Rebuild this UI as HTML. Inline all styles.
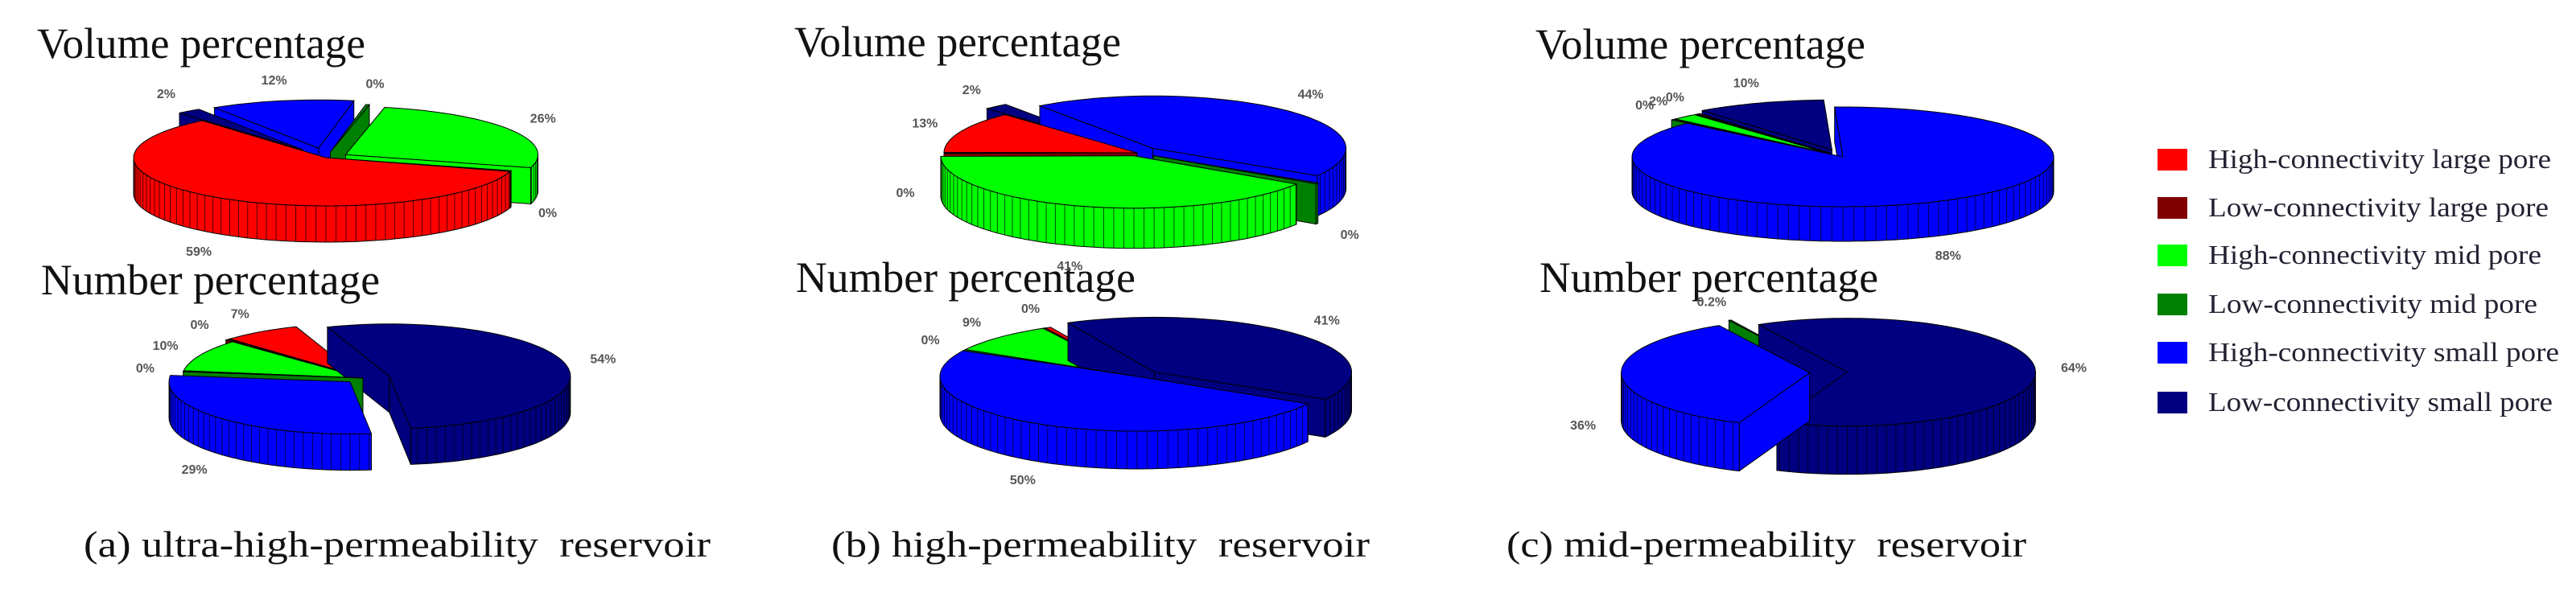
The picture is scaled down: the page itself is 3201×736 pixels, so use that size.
<!DOCTYPE html>
<html><head><meta charset="utf-8"><style>
html,body{margin:0;padding:0;background:#fff;}
svg{display:block;}
</style></head><body>
<svg id="fig" width="3201" height="736" viewBox="0 0 3201 736" xmlns="http://www.w3.org/2000/svg">
<rect x="0" y="0" width="3201" height="736" fill="#fff"/>
<g font-family="'Liberation Serif', serif" fill="#111">
<text x="46" y="72" font-size="54" textLength="408" lengthAdjust="spacingAndGlyphs">Volume percentage</text>
<text x="987" y="70" font-size="54" textLength="406" lengthAdjust="spacingAndGlyphs">Volume percentage</text>
<text x="1908" y="73" font-size="54" textLength="410" lengthAdjust="spacingAndGlyphs">Volume percentage</text>
<text x="51" y="366" font-size="54" textLength="421" lengthAdjust="spacingAndGlyphs">Number percentage</text>
<text x="989" y="363" font-size="54" textLength="422" lengthAdjust="spacingAndGlyphs">Number percentage</text>
<text x="1913" y="363" font-size="54" textLength="421" lengthAdjust="spacingAndGlyphs">Number percentage</text>
<text x="104" y="692" font-size="46" textLength="779" lengthAdjust="spacingAndGlyphs" xml:space="preserve">(a) ultra-high-permeability  reservoir</text>
<text x="1033" y="692" font-size="46" textLength="669" lengthAdjust="spacingAndGlyphs" xml:space="preserve">(b) high-permeability  reservoir</text>
<text x="1872" y="692" font-size="46" textLength="646" lengthAdjust="spacingAndGlyphs" xml:space="preserve">(c) mid-permeability  reservoir</text>
</g>
<g id="pies"></g>
<g id="legend"></g>
</svg>
<script>
// ---- data ----
const categories = ["High-connectivity large pore","Low-connectivity large pore","High-connectivity mid pore","Low-connectivity mid pore","High-connectivity small pore","Low-connectivity small pore"];
const colors = ["#ff0000","#800000","#00ff00","#008000","#0000ff","#000080"];
const volumeA = [59, 0.3, 26, 0.3, 12, 2];
const numberA = [7, 0.3, 10, 0.3, 29, 54];
const volumeB = [13, 0.3, 41, 0.3, 44, 2];
const numberB = [0.5, 0.2, 9, 0.4, 50, 41];
const volumeC = [0.2, 0.2, 2, 0.3, 88, 10];
const numberC = [0, 0, 0, 0.2, 36, 64];
const labelsVolumeA = ["59%","0%","26%","0%","12%","2%"];
const labelsNumberA = ["7%","0%","10%","0%","29%","54%"];
const labelsVolumeB = ["13%","0%","41%","0%","44%","2%"];
const labelsNumberB = ["0%","","9%","0%","50%","41%"];
const labelsVolumeC = ["0%","","2%","0%","88%","10%"];
const labelsNumberC = ["","","","0.2%","36%","64%"];

// ---- layout (geometry only) ----
const pies = [
 {name:"volume-pie-a", vals:volumeA, labels:labelsVolumeA, cx:405, cy:196, rx:239, ry:60, d:45, start:130, ex:[0,0,0.12,0.12,0.2,0.2]},
 {name:"number-pie-a", vals:numberA, labels:labelsNumberA, cx:451, cy:470, rx:225, ry:65, d:45, start:110, ex:[0.05,0.05,0,0,0.1,0.15]},
 {name:"volume-pie-b", vals:volumeB, labels:labelsVolumeB, cx:1413, cy:190, rx:240, ry:65, d:50, start:133, ex:[0,0,0.06,0.1,0.12,0.15]},
 {name:"number-pie-b", vals:numberB, labels:labelsNumberB, cx:1413, cy:468, rx:245, ry:68, d:47, start:116, ex:[0,0,0,0,0,0.12]},
 {name:"volume-pie-c", vals:volumeC, labels:labelsVolumeC, cx:2290, cy:195, rx:262, ry:62, d:43, start:128, ex:[0.1,0.1,0.1,0.1,0,0.15]},
 {name:"number-pie-c", vals:numberC, labels:labelsNumberC, cx:2272, cy:463, rx:234, ry:67, d:60, start:118, ex:[0,0,0,0.1,0.1,0.1]}
];
const NS = "http://www.w3.org/2000/svg";
const rad = a => a*Math.PI/180;
function mk(tag, attrs, parent){const e=document.createElementNS(NS,tag);for(const k in attrs)e.setAttribute(k,attrs[k]);parent.appendChild(e);return e;}
function pt(c,x0,y0,t,dy){return [x0+c.rx*Math.cos(rad(t)), y0-c.ry*Math.sin(rad(t))+dy];}
const root = document.getElementById("pies");
pies.forEach(c=>{
  const g = mk("g",{},root);
  
  
  const total = c.vals.reduce((a,b)=>a+b,0);
  let a = c.start;
  const slices = c.vals.map((v,i)=>{
    const a0=a, a1=a+v/total*360; a=a1;
    const m=(a0+a1)/2, f=c.ex[i];
    return {i,v,a0,a1,m,ox:f*c.rx*Math.cos(rad(m)), oy:-f*c.ry*Math.sin(rad(m))};
  });
  // labels
  slices.forEach(s=>{
    if(!c.labels[s.i]) return;
    const sm=Math.sin(rad(s.m)), cm=Math.cos(rad(s.m));
    const x=c.cx+s.ox+(c.rx+48)*cm, y=c.cy+s.oy-(c.ry+26)*sm+(sm<0?c.d:0)+5;
    const t=mk("text",{x:x.toFixed(1),y:y.toFixed(1),"font-family":"'Liberation Sans', sans-serif","font-size":"16","font-weight":"bold",fill:"#555","text-anchor":"middle"},g);
    t.textContent=c.labels[s.i];
    
    
  });
  const drawn = slices.filter(s=>s.v>0).sort((p,q)=>Math.sin(rad(q.m))-Math.sin(rad(p.m)));
  const groups = {};
  drawn.forEach(s=>{
    const sg=mk("g",{},g);
    
    
    groups[s.i]={side:mk("g",{},sg), arc:mk("g",{},sg), top:mk("g",{},sg)};
  });
  // pass 1: visible radial faces
  drawn.forEach(s=>{
    const col=colors[s.i], x0=c.cx+s.ox, y0=c.cy+s.oy, G=groups[s.i].side;
    const faces=[];
    if(Math.cos(rad(s.a0))>0) faces.push(s.a0);
    if(Math.cos(rad(s.a1))<0) faces.push(s.a1);
    faces.forEach(t=>{
      const p=pt(c,x0,y0,t,0), q=pt(c,x0,y0,t,c.d);
      mk("path",{d:`M${x0},${y0}L${p[0]},${p[1]}L${q[0]},${q[1]}L${x0},${y0+c.d}Z`,fill:col,stroke:"#000","stroke-width":"1"},G);
    });
  });
  // pass 2: front curved sides
  drawn.forEach(s=>{
    const col=colors[s.i], x0=c.cx+s.ox, y0=c.cy+s.oy, G=groups[s.i].arc;
    for(let k=-1;k<=2;k++){
      const lo=Math.max(s.a0,180+360*k), hi=Math.min(s.a1,360+360*k);
      if(hi<=lo) continue;
      let d="", n=Math.max(2,Math.ceil((hi-lo)/2));
      for(let j=0;j<=n;j++){const p=pt(c,x0,y0,lo+(hi-lo)*j/n,0);d+=(j?"L":"M")+p[0].toFixed(1)+","+p[1].toFixed(1);}
      for(let j=n;j>=0;j--){const p=pt(c,x0,y0,lo+(hi-lo)*j/n,c.d);d+="L"+p[0].toFixed(1)+","+p[1].toFixed(1);}
      mk("path",{d:d+"Z",fill:col,stroke:"#000","stroke-width":"1"},G);
      let sd="";
      for(let t=Math.ceil(lo/3)*3;t<hi;t+=3){const p=pt(c,x0,y0,t,0);sd+=`M${p[0].toFixed(1)},${p[1].toFixed(1)}v${c.d}`;}
      if(sd) mk("path",{d:sd,stroke:"#000","stroke-width":"0.9","stroke-opacity":"0.75",fill:"none"},G);
    }
  });
  // pass 3: tops
  drawn.forEach(s=>{
    const col=colors[s.i], x0=c.cx+s.ox, y0=c.cy+s.oy, G=groups[s.i].top;
    let d=`M${x0},${y0}`, n=Math.max(2,Math.ceil((s.a1-s.a0)/2));
    for(let j=0;j<=n;j++){const p=pt(c,x0,y0,s.a0+(s.a1-s.a0)*j/n,0);d+="L"+p[0].toFixed(1)+","+p[1].toFixed(1);}
    mk("path",{d:d+"Z",fill:col,stroke:"#000","stroke-width":"1"},G);
  });
});
// legend
const lg=document.getElementById("legend");
const legendY=[198,258,317,378,438,500];
const legendLen=[426,423,414,409,436,428];
categories.forEach((name,i)=>{
  const r=mk("rect",{x:2681,y:legendY[i]-13,width:37,height:27,fill:colors[i]},lg);
  
  
  const t=mk("text",{x:2744,y:legendY[i]+11,"font-family":"'Liberation Serif', serif","font-size":"34",fill:"#222233",textLength:legendLen[i],lengthAdjust:"spacingAndGlyphs"},lg);
  t.textContent=name;
  
  
});
</script>
</body></html>
